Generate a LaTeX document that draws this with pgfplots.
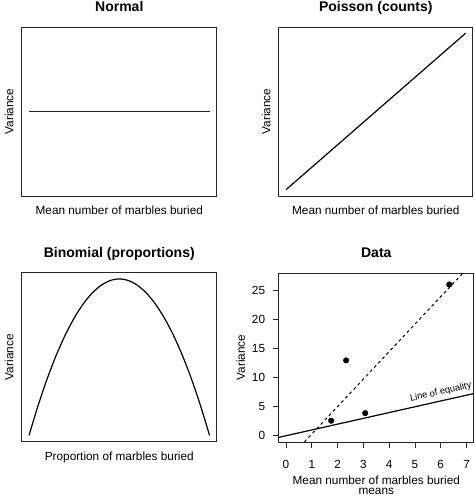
\documentclass[border=0pt]{standalone}
\usepackage{pgfplots}
\pgfplotsset{compat=1.18}
\usepackage{fontspec}
\setmainfont{Liberation Sans}
\begin{document}
\pgfplotsset{
  panel/.style={
    scale only axis, height=169pt,
    axis line style={line width=0.9pt, black!85},
    title style={at={(axis description cs:0.5,1)}, anchor=base, yshift=9.5pt, font=\bfseries\fontsize{14}{16}\selectfont},
    label style={font=\fontsize{11.8}{10.7}\selectfont},
    tick label style={font=\fontsize{11.8}{13}\selectfont},
    /pgf/number format/assume math mode=true,
  },
  plain/.style={panel, ticks=none,
    xmin=-0.04, xmax=1.04,
    xlabel style={at={(axis description cs:0.5,-0.1124)}, anchor=base},
    ylabel style={at={(axis description cs:-0.0436,0.5)}, anchor=base},
  },
}
\begin{tikzpicture}
\path[use as bounding box] (0pt,0pt) rectangle (472pt,497pt);
% Normal
\begin{axis}[plain, at={(19pt,301pt)}, anchor=south west, width=195pt,
  ymin=-0.04, ymax=1.04, title={Normal},
  xlabel={Mean number of marbles buried}, ylabel={Variance}]
\addplot[black!85, line width=1.3pt] coordinates {(0,0.5) (1,0.5)};
\end{axis}
% Poisson
\begin{axis}[plain, at={(276pt,301pt)}, anchor=south west, width=194pt,
  ymin=-0.04, ymax=1.04, title={Poisson (counts)},
  xlabel={Mean number of marbles buried}, ylabel={Variance}]
\addplot[black, line width=1.2pt] coordinates {(0,0) (1,1)};
\end{axis}
% Binomial
\begin{axis}[plain, at={(19pt,55.3pt)}, anchor=south west, width=195pt,
  ymin=-0.01, ymax=0.26, title={Binomial (proportions)},
  xlabel={Proportion of marbles buried}, ylabel={Variance}]
\addplot[black, line width=1.2pt, smooth] coordinates {
 (0,0) (0.05,0.0475) (0.1,0.09) (0.15,0.1275) (0.2,0.16) (0.25,0.1875)
 (0.3,0.21) (0.35,0.2275) (0.4,0.24) (0.45,0.2475) (0.5,0.25)
 (0.55,0.2475) (0.6,0.24) (0.65,0.2275) (0.7,0.21) (0.75,0.1875)
 (0.8,0.16) (0.85,0.1275) (0.9,0.09) (0.95,0.0475) (1,0)};
\end{axis}
% Data
\begin{axis}[panel, at={(276pt,55pt)}, anchor=south west, width=195pt,
  xmin=-0.28, xmax=7.28, ymin=-1.08, ymax=28.08,
  xtick={0,1,2,3,4,5,6,7}, ytick={0,5,10,15,20,25},
  xtick pos=bottom, ytick pos=left, tick align=outside,
  major tick length=6pt, tick style={black!85, line width=0.9pt},
  xticklabel style={anchor=base, yshift=-20pt},
  yticklabel style={anchor=east, inner sep=0pt, xshift=-7.5pt},
  title={Data},
  xlabel={Mean number of marbles buried\\means},
  xlabel style={at={(axis description cs:0.5,-0.3136)}, anchor=base, align=center},
  ylabel={Variance},
  ylabel style={at={(axis description cs:-0.174,0.5)}, anchor=base},
  clip=true]
\addplot[black, line width=1.2pt] coordinates {(-0.28,-0.28) (7.28,7.28)};
\addplot[black, line width=1pt, dash pattern=on 3pt off 3pt] coordinates {(0.71,-1.08) (6.86,28.08)};
\addplot[only marks, mark=*, mark size=2.8pt, black] coordinates {
 (1.75,2.6) (2.33,13.0) (3.07,3.9) (6.33,26.1)};
\node[rotate=12.6, font=\fontsize{9.3}{11}\selectfont] at (axis cs:6,7.5) {Line of equality};
\end{axis}
\end{tikzpicture}
\end{document}
